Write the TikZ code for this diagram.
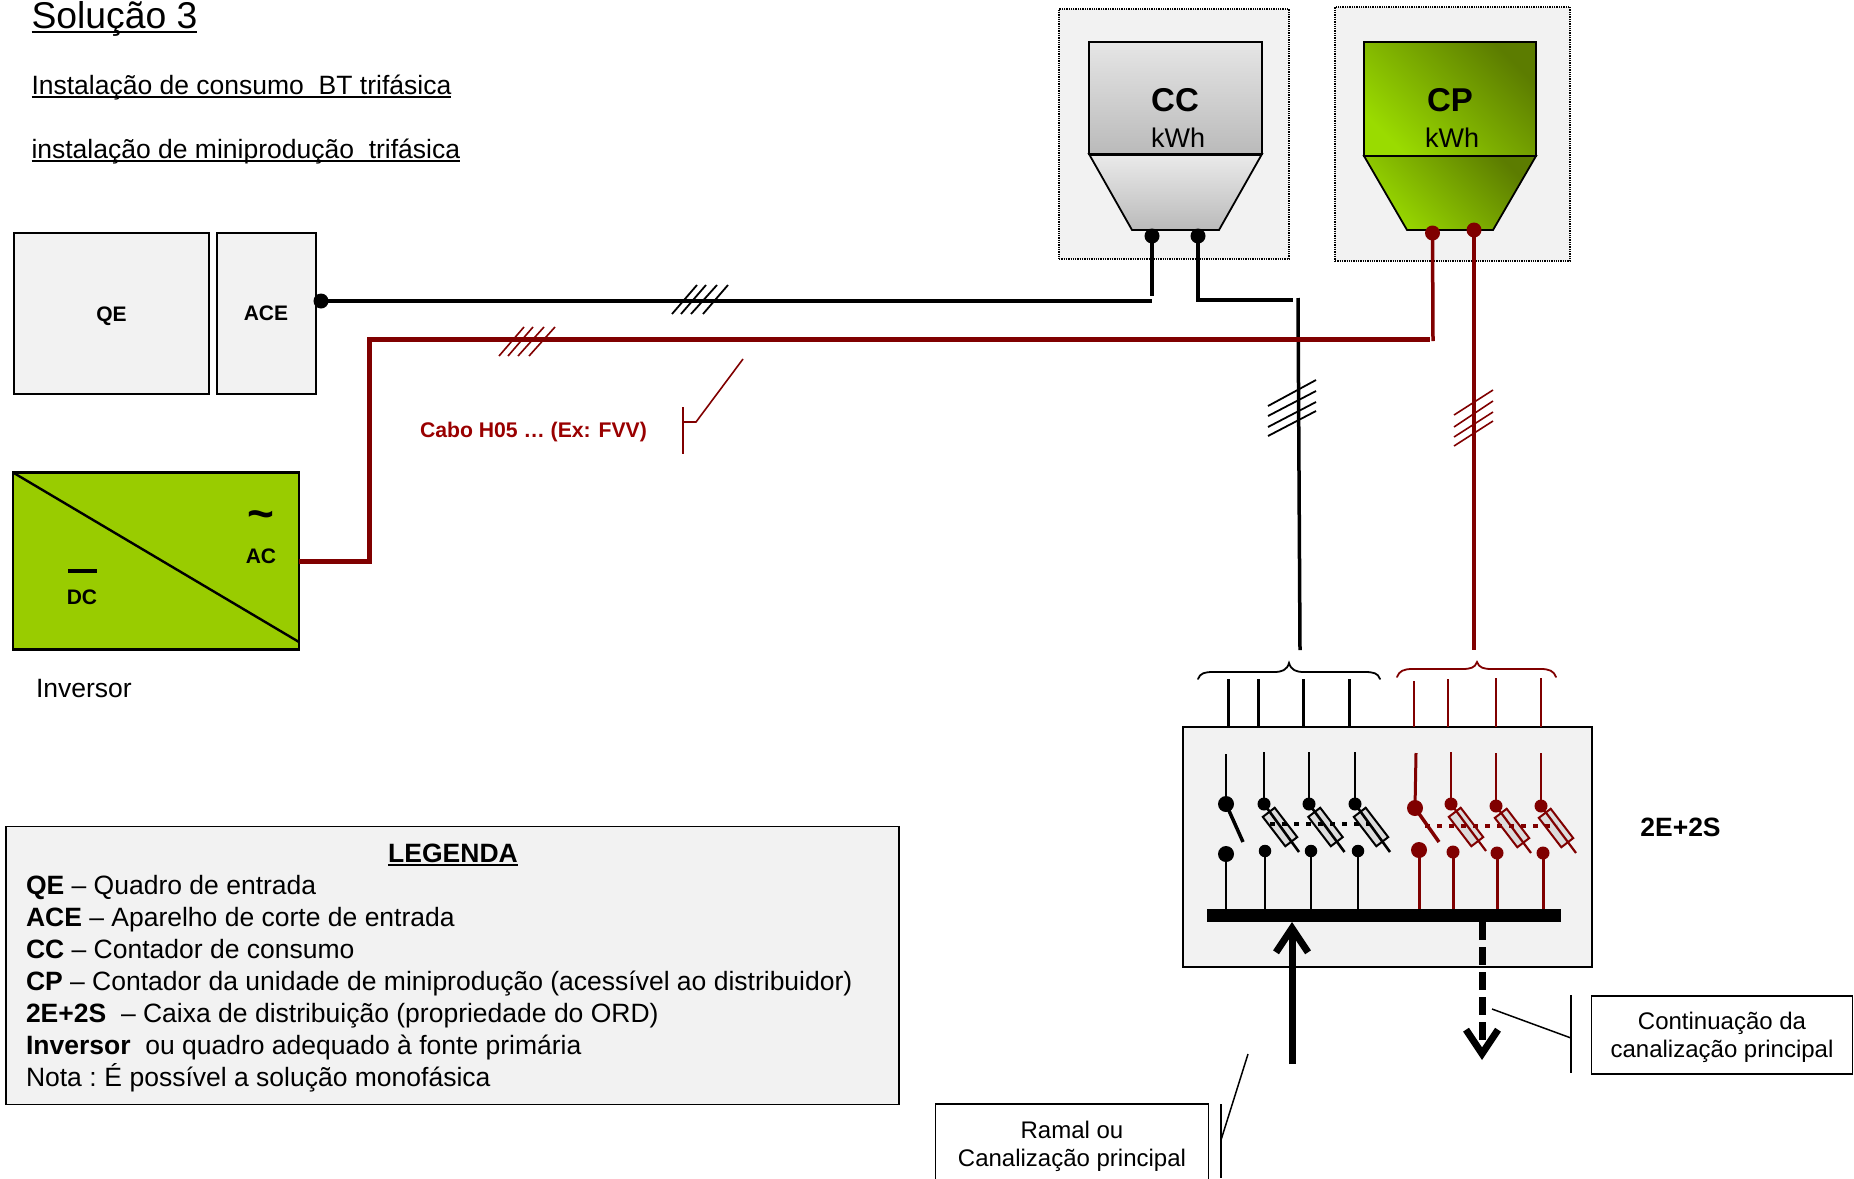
\documentclass[tikz,border=0pt]{standalone}
\usepackage{fontspec}
\setmainfont{Liberation Sans}
\usetikzlibrary{arrows.meta}
\definecolor{cabred}{HTML}{800000}
\definecolor{txtred}{HTML}{990000}
\definecolor{panel}{HTML}{F2F2F2}
\definecolor{fusefill}{HTML}{DCDCDC}
\definecolor{invgreen}{HTML}{99CC00}
\definecolor{cpdark}{HTML}{5C7C00}
\definecolor{cplight}{HTML}{9ADB00}
\newcommand{\fs}[1]{\fontsize{#1}{#1}\selectfont}
\tikzset{
    panelbox/.style={draw, fill=panel, line width=1.5pt, inner sep=0pt, outer sep=0pt},
    frame/.style={draw, densely dotted, fill=panel, line width=1.3pt},
    plain/.style={inner sep=0pt, outer sep=0pt},
    ruleline/.style={draw=black, line width=1.7pt},
    blackwire/.style={draw=black, line width=3.5pt},
    redwire/.style={draw=cabred, line width=3.5pt},
    thinblack/.style={draw=black, line width=2.6pt},
    thinred/.style={draw=cabred, line width=2.2pt},
    tickblack/.style={draw=black, line width=1.8pt},
    tickred/.style={draw=cabred, line width=1.6pt},
    dotblack/.style={circle, fill=black, inner sep=0pt, outer sep=0pt, minimum size=#1},
    dotred/.style={circle, fill=cabred, inner sep=0pt, outer sep=0pt, minimum size=#1},
    fuseblack/.style={draw=black, fill=fusefill, line width=2pt, minimum width=37pt, minimum height=15pt, inner sep=0pt, rotate=-52.5},
    fusered/.style={draw=cabred, fill=fusefill, line width=2pt, minimum width=37pt, minimum height=15pt, inner sep=0pt, rotate=-52.5},
    callbox/.style={draw, line width=1.5pt, fill=white, inner sep=0pt, outer sep=0pt},
    calltext/.style={inner sep=0pt, outer sep=0pt, align=center, font=\fs{24}},
}
\begin{document}
\begin{tikzpicture}[x=1pt, y=-1pt]
    \useasboundingbox (0,0) rectangle (1854,1178);

    % titles
    \node[plain, anchor=base west, font=\fs{37.3}] (title) at (31.5,28) {Solução 3};
    \node[plain, anchor=base west, font=\fs{26.5}] (sub1) at (31.5,94) {Instalação de consumo\ \ BT trifásica};
    \node[plain, anchor=base west, font=\fs{26.5}] (sub2) at (31.5,158) {instalação de miniprodução\ \ trifásica};
    \draw[ruleline, line width=2pt] ([yshift=-4pt]title.base west) -- ([yshift=-4pt]title.base east);
    \draw[ruleline] ([yshift=-3pt]sub1.base west) -- ([yshift=-3pt]sub1.base east);
    \draw[ruleline] ([yshift=-3pt]sub2.base west) -- ([yshift=-3pt]sub2.base east);

    % left boxes
    \node[panelbox, minimum width=195pt, minimum height=161pt] (QE) at (111.5,313.5) {};
    \node[panelbox, minimum width=99pt, minimum height=161pt] (ACE) at (266.5,313.5) {};
    \node[plain, font=\fs{21}\bfseries] (QEt) at (111.5,316) {QE};
    \node[plain, font=\fs{21}\bfseries] (ACEt) at (266,313.5) {ACE};

    % inverter
    \node[draw, fill=invgreen, line width=2.6pt, minimum width=286pt, minimum height=177pt, inner sep=0pt, outer sep=0pt] (INV) at (156,561) {};
    \coordinate (INVd) at (299,642);
    \draw[line width=2.4pt] (INV.north west) -- (INVd);
    \coordinate (DCa) at (68,571);
    \coordinate (DCb) at (97,571);
    \draw[line width=3.5pt] (DCa) -- (DCb);
    \node[plain, font=\fs{21}\bfseries] (DC) at (82,597) {DC};
    \node[plain, font=\fs{21}\bfseries] (AC) at (261,556) {AC};
    \node[plain, font=\fs{46}\bfseries] (AClbl) at (261,520) {\textasciitilde};
    \node[plain, anchor=base west, font=\fs{26.5}] (INVt) at (36,697) {Inversor};

    % meters
    \node[frame, minimum width=230pt, minimum height=250pt, inner sep=0pt] (CCf) at (1174,134) {};
    \node[frame, minimum width=235pt, minimum height=254pt, inner sep=0pt] (CPf) at (1452.5,134) {};
    \coordinate (CCa) at (1089,42);
    \coordinate (CCb) at (1262,42);
    \coordinate (CCc) at (1262,154);
    \coordinate (CCd) at (1089,154);
    \coordinate (CCe) at (1219,230);
    \coordinate (CCg) at (1132,230);
    \draw[line width=1.8pt, top color=white!92!black, bottom color=black!27] (CCd) -- (CCc) -- (CCe) -- (CCg) -- cycle;
    \draw[line width=1.8pt, top color=white!90!black, bottom color=black!27] (CCa) -- (CCb) -- (CCc) -- (CCd) -- cycle;
    \draw[line width=3pt] (CCd) -- (CCc);
    \coordinate (CPa) at (1364,42);
    \coordinate (CPb) at (1536,42);
    \coordinate (CPc) at (1536,156);
    \coordinate (CPd) at (1364,156);
    \coordinate (CPe) at (1493,230);
    \coordinate (CPg) at (1407,230);
    \draw[line width=1.8pt, top color=cpdark, bottom color=cplight, shading angle=-45] (CPd) -- (CPc) -- (CPe) -- (CPg) -- cycle;
    \draw[line width=1.8pt, top color=cpdark, bottom color=cplight, shading angle=-45] (CPa) -- (CPb) -- (CPc) -- (CPd) -- cycle;
    \node[plain, font=\fs{33}\bfseries] (CC) at (1175,100) {CC};
    \node[plain, font=\fs{27}] (CCk) at (1178,138) {kWh};
    \node[plain, font=\fs{33}\bfseries] (CP) at (1450,100) {CP};
    \node[plain, font=\fs{27}] (CPk) at (1452,138) {kWh};

    % terminals
    \node[dotblack=15pt] (T1) at (1152,236) {};
    \node[dotblack=15pt] (T2) at (1198,236) {};
    \node[dotred=15pt] (T3) at (1432.5,233) {};
    \node[dotred=15pt] (T4) at (1474,230) {};
    \node[dotblack=15pt] (T0) at (321,301) {};

    % cables
    \coordinate (A1) at (1152,301);
    \coordinate (A2) at (1152,296);
    \coordinate (A3) at (1198,300);
    \coordinate (A4) at (1293,300);
    \coordinate (A5) at (1298,298);
    \coordinate (A6) at (1300,650);
    \draw[blackwire] (T0.center) -- (A1);
    \draw[blackwire] (T1.center) -- (A2);
    \draw[blackwire] (T2.center) -- (A3) -- (A4);
    \draw[blackwire] (A5) -- (A6);
    \coordinate (R1) at (369,561);
    \coordinate (R2) at (369,339);
    \coordinate (R3) at (1430,339);
    \coordinate (R4) at (1433,341);
    \coordinate (R5) at (1474,650);
    \draw[draw=cabred, line width=5pt, line join=miter] (INV.east) -- (R1) -- (R2) -- (R3);
    \draw[redwire] (T3.center) -- (R4);
    \draw[redwire] (T4.center) -- (R5);

    % ticks
    \draw[tickblack] (672,314) -- (697,285);
    \draw[tickblack] (681,314) -- (706,285);
    \draw[tickblack] (691,314) -- (717,285);
    \draw[tickblack] (703,314) -- (728,285);
    \draw[tickred] (499,356) -- (524,327);
    \draw[tickred] (508,356) -- (533,327);
    \draw[tickred] (518,356) -- (544,327);
    \draw[tickred] (529,356) -- (555,327);
    \draw[tickblack] (1268,406) -- (1316,380);
    \draw[tickblack] (1268,416) -- (1316,391);
    \draw[tickblack] (1268,427) -- (1316,402);
    \draw[tickblack] (1268,436) -- (1316,411);
    \draw[tickred] (1454,415) -- (1493,390);
    \draw[tickred] (1454,427) -- (1493,401);
    \draw[tickred] (1454,437) -- (1493,412);
    \draw[tickred] (1454,446) -- (1493,421);

    % cable note
    \node[plain, anchor=west, text=txtred, font=\fs{21.2}\bfseries] (CAB) at (420,432) {Cabo H05 … (Ex: FVV)};
    \coordinate (N1) at (683,407);
    \coordinate (N2) at (683,454);
    \coordinate (N3) at (683,422);
    \coordinate (N4) at (696,422);
    \coordinate (N5) at (743,359);
    \draw[draw=cabred, line width=1.8pt] (N1) -- (N2);
    \draw[draw=cabred, line width=1.6pt] (N3) -- (N4) -- (N5);

    % distribution box
    \node[panelbox, line width=2pt, minimum width=409pt, minimum height=240pt] (BOX) at (1387.5,847) {};
    \node[plain, font=\fs{26.5}\bfseries] (BOXt) at (1680.5,827) {2E+2S};

    % braces
    \coordinate (BK1) at (1198,679);
    \coordinate (BK2) at (1289,663);
    \coordinate (BK3) at (1380,679);
    \draw[line width=1.8pt, line cap=round] (BK1) .. controls (1200,673) and (1205,672) .. (1213,672) -- (1274,672) .. controls (1282,672) and (1287,670) .. (BK2) .. controls (1291,670) and (1296,672) .. (1304,672) -- (1365,672) .. controls (1373,672) and (1378,673) .. (BK3);
    \coordinate (BR1) at (1397,677);
    \coordinate (BR2) at (1477,662);
    \coordinate (BR3) at (1556,677);
    \draw[draw=cabred, line width=1.8pt, line cap=round] (BR1) .. controls (1399,671) and (1404,669) .. (1412,669) -- (1462,669) .. controls (1470,669) and (1475,668) .. (BR2) .. controls (1479,668) and (1484,669) .. (1492,669) -- (1541,669) .. controls (1549,669) and (1554,671) .. (BR3);

    % feeders
    \draw[thinblack, line width=3pt] (1228,679) -- (1228,727);
    \draw[thinblack, line width=3pt] (1258,679) -- (1258,727);
    \draw[thinblack, line width=3pt] (1303.5,679) -- (1303.5,727);
    \draw[thinblack, line width=3pt] (1349,679) -- (1349,727);
    \draw[thinred] (1414,681) -- (1414,727);
    \draw[thinred] (1448,679) -- (1448,727);
    \draw[thinred] (1496,678) -- (1496,727);
    \draw[thinred] (1541,678) -- (1541,727);

    % busbar
    \node[fill=black, minimum width=354pt, minimum height=13pt, inner sep=0pt, outer sep=0pt] (BUS) at (1384,915.5) {};

    % black switches
    \node[dotblack=16pt] (K1a) at (1226,804) {};
    \node[dotblack=16pt] (K1b) at (1226,854) {};
    \coordinate (K1t) at (1226,754);
    \coordinate (K1e) at (1243,842);
    \draw[thinblack] (K1t) -- (K1a.center);
    \draw[thinblack, line width=3.5pt] (K1a.center) -- (K1e);
    \draw[thinblack] (K1b.center) -- (K1b.center |- BUS.north);

    \node[dotblack=13pt] (K2a) at (1264,804) {};
    \node[dotblack=13pt] (K3a) at (1309,804) {};
    \node[dotblack=13pt] (K4a) at (1355,804) {};
    \node[dotblack=12.5pt] (K2b) at (1265,851) {};
    \node[dotblack=12.5pt] (K3b) at (1311,851) {};
    \node[dotblack=12.5pt] (K4b) at (1358,851) {};
    \coordinate (K2t) at (1264,752);
    \coordinate (K3t) at (1309,752);
    \coordinate (K4t) at (1355,752);
    \coordinate (K2e) at (1299,852);
    \coordinate (K3e) at (1344.5,852);
    \coordinate (K4e) at (1390,852);
    \node[fuseblack] (F2) at (1280,827) {};
    \node[fuseblack] (F3) at (1325.5,827) {};
    \node[fuseblack] (F4) at (1371,827) {};
    \draw[thinblack] (K2t) -- (K2a.center);
    \draw[thinblack] (K3t) -- (K3a.center);
    \draw[thinblack] (K4t) -- (K4a.center);
    \draw[thinblack] (K2a.center) -- (K2e);
    \draw[thinblack] (K3a.center) -- (K3e);
    \draw[thinblack] (K4a.center) -- (K4e);
    \draw[thinblack] (K2b.center) -- (K2b.center |- BUS.north);
    \draw[thinblack] (K3b.center) -- (K3b.center |- BUS.north);
    \draw[thinblack] (K4b.center) -- (K4b.center |- BUS.north);
    \coordinate (Kd1) at (1270,824);
    \coordinate (Kd2) at (1370,824);
    \draw[draw=black, line width=4pt, dash pattern=on 5pt off 7pt] (Kd1) -- (Kd2);

    % red switches
    \node[dotred=16pt] (L1a) at (1415,808) {};
    \node[dotred=16pt] (L1b) at (1419,850) {};
    \coordinate (L1t) at (1416,753);
    \coordinate (L1e) at (1439,842);
    \draw[thinred, line width=3pt] (L1t) -- (L1a.center);
    \draw[thinred, line width=3.5pt] (L1a.center) -- (L1e);
    \draw[thinred, line width=3pt] (L1b.center) -- (L1b.center |- BUS.north);

    \node[dotred=13pt] (L2a) at (1451,804) {};
    \node[dotred=13pt] (L3a) at (1496,806) {};
    \node[dotred=13pt] (L4a) at (1541,806) {};
    \node[dotred=13pt] (L2b) at (1453,852) {};
    \node[dotred=13pt] (L3b) at (1497,853) {};
    \node[dotred=13pt] (L4b) at (1543,853) {};
    \coordinate (L2t) at (1451,752);
    \coordinate (L3t) at (1496,753);
    \coordinate (L4t) at (1541,753);
    \coordinate (L2e) at (1486,851);
    \coordinate (L3e) at (1531,853);
    \coordinate (L4e) at (1576,853);
    \node[fusered] (G2) at (1466,827) {};
    \node[fusered] (G3) at (1512,828) {};
    \node[fusered] (G4) at (1556,828) {};
    \draw[thinred] (L2t) -- (L2a.center);
    \draw[thinred] (L3t) -- (L3a.center);
    \draw[thinred] (L4t) -- (L4a.center);
    \draw[thinred] (L2a.center) -- (L2e);
    \draw[thinred] (L3a.center) -- (L3e);
    \draw[thinred] (L4a.center) -- (L4e);
    \draw[thinred, line width=3pt] (L2b.center) -- (L2b.center |- BUS.north);
    \draw[thinred, line width=3pt] (L3b.center) -- (L3b.center |- BUS.north);
    \draw[thinred, line width=3pt] (L4b.center) -- (L4b.center |- BUS.north);
    \coordinate (Ld1) at (1425,826);
    \coordinate (Ld2) at (1557,826);
    \draw[draw=cabred, line width=4pt, dash pattern=on 5pt off 7pt] (Ld1) -- (Ld2);

    % feed arrows
    \coordinate (UP1) at (1292,1064);
    \coordinate (UP2) at (1292,922);
    \coordinate (DN1) at (1482,922);
    \coordinate (DN2) at (1482,1060);
    \draw[line width=7pt, -{Straight Barb[length=24pt, width=32pt]}] (UP1) -- (UP2);
    \draw[line width=7pt, dash pattern=on 18pt off 7pt, -{Straight Barb[length=24pt, width=32pt]}] (DN1) -- (DN2);

    % notes
    \node[callbox, minimum width=261pt, minimum height=78pt] (CONT) at (1722,1035) {};
    \node[calltext] (CONTt) at (1722,1037.5) {Continuação da\\[4pt]canalização principal};
    \coordinate (C1) at (1571,995);
    \coordinate (C2) at (1571,1073);
    \coordinate (C3) at (1571,1038);
    \coordinate (C4) at (1492,1009);
    \draw[line width=1.8pt] (C1) -- (C2);
    \draw[line width=1.5pt] (C3) -- (C4);
    \node[callbox, minimum width=273pt, minimum height=86pt] (RAM) at (1072,1147) {};
    \node[calltext] (RAMt) at (1072,1146) {Ramal ou\\[4pt]Canalização principal};
    \coordinate (E1) at (1221,1104);
    \coordinate (E2) at (1221,1178);
    \coordinate (E3) at (1221,1140);
    \coordinate (E4) at (1248,1054);
    \draw[line width=1.8pt] (E1) -- (E2);
    \draw[line width=1.5pt] (E3) -- (E4);

    % legend
    \node[panelbox, minimum width=893pt, minimum height=278pt] (LEG) at (452.5,965.5) {};
    \node[plain, font=\fs{26.5}\bfseries] (LEGt) at (453,853) {LEGENDA};
    \draw[ruleline] ([yshift=-3pt]LEGt.base west) -- ([yshift=-3pt]LEGt.base east);
    \node[plain, anchor=west, align=left, font=\fontsize{26.5}{32}\selectfont] (LEGb) at (26,984) {%
        \textbf{QE} – Quadro de entrada\\
        \textbf{ACE} – Aparelho de corte de entrada\\
        \textbf{CC} – Contador de consumo\\
        \textbf{CP} – Contador da unidade de miniprodução (acessível ao distribuidor)\\
        \textbf{2E+2S}\ \ – Caixa de distribuição (propriedade do ORD)\\
        \textbf{Inversor}\ \ ou quadro adequado à fonte primária\\
        Nota : \kern-2pt É possível a solução monofásica};
\end{tikzpicture}
\end{document}
